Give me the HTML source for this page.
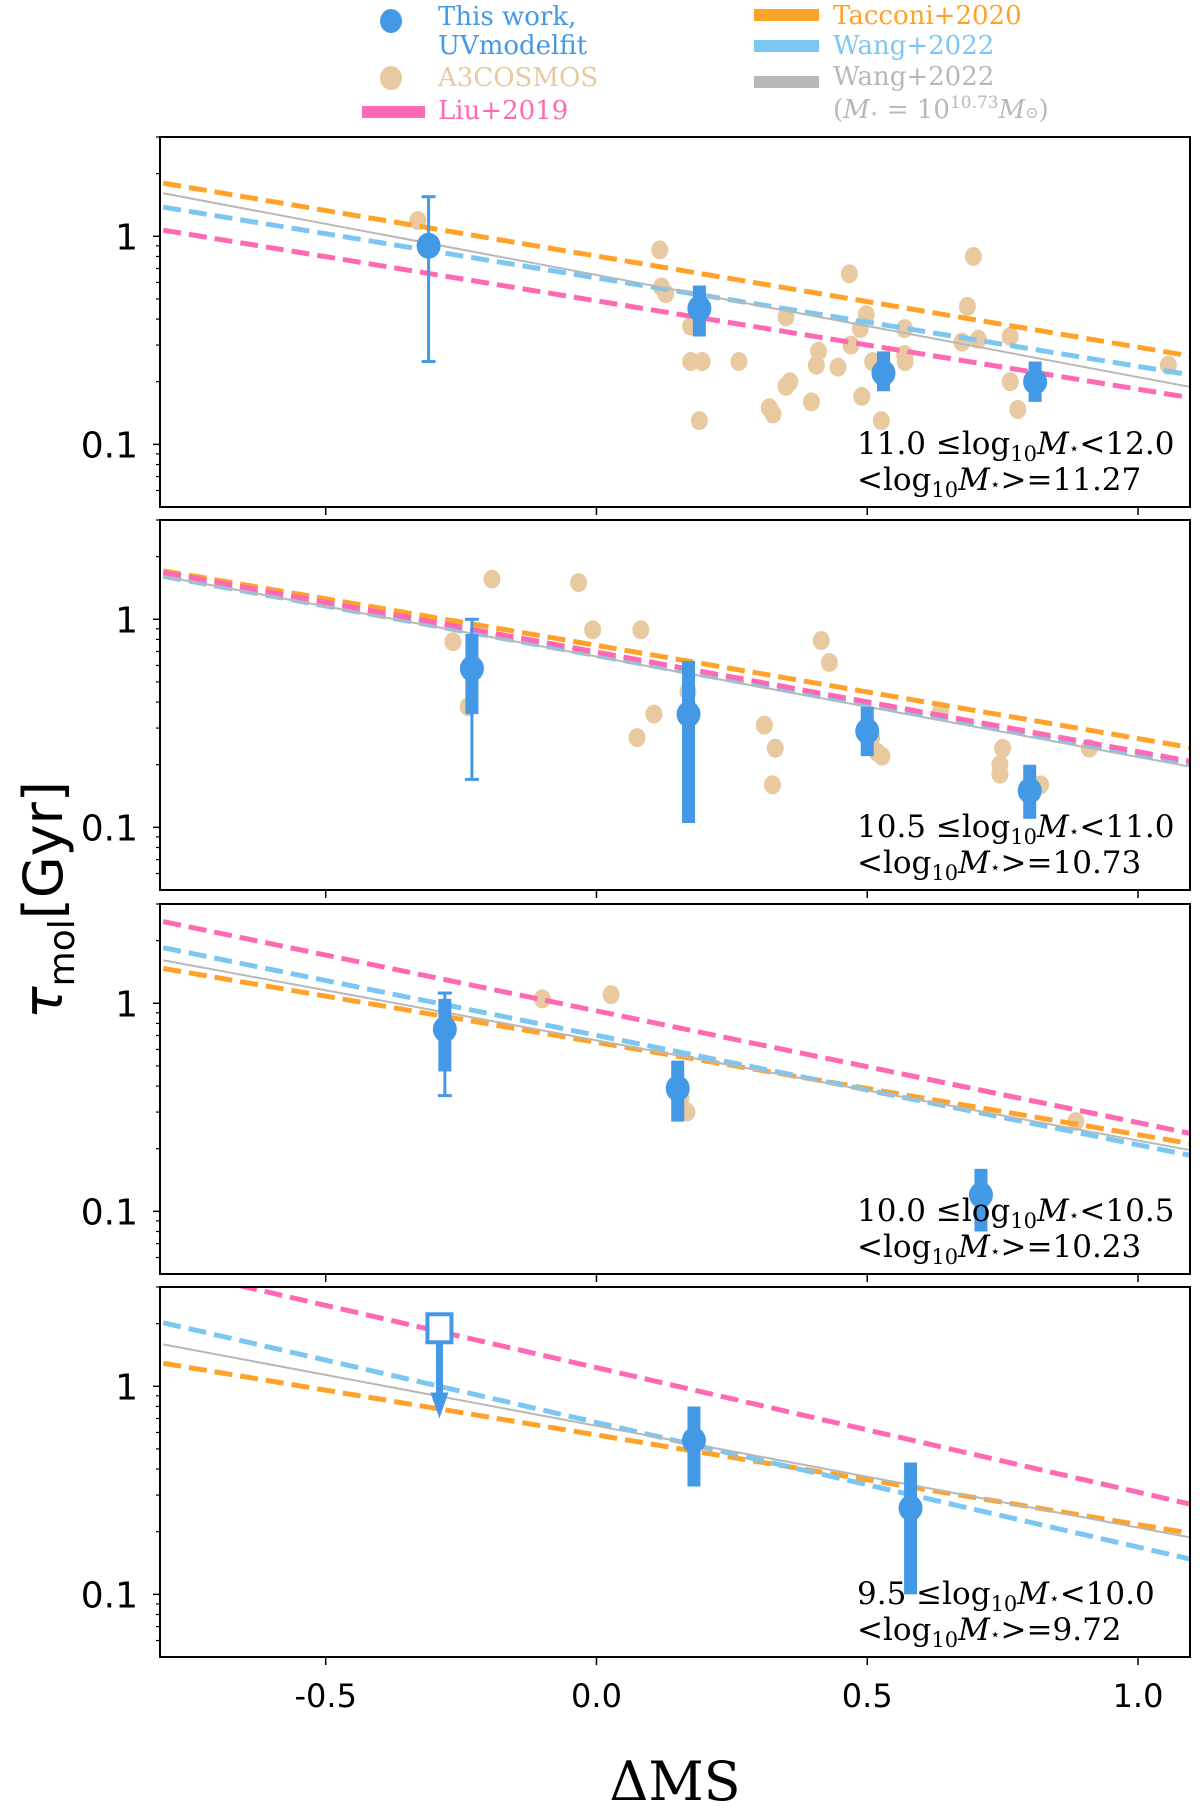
<!DOCTYPE html>
<html><head><meta charset="utf-8"><style>
body{margin:0;background:#fff;}
svg{display:block;}
</style></head><body>
<svg id="fig" width="1200" height="1815" xmlns="http://www.w3.org/2000/svg">
<g font-family="DejaVu Serif, Liberation Serif, serif" font-size="26">
  <ellipse cx="391" cy="21" rx="11" ry="12" fill="#4499e6"/>
  <text x="438" y="25" fill="#4499e6">This work,</text>
  <text x="438" y="54" fill="#4499e6">UVmodelfit</text>
  <ellipse cx="391" cy="78" rx="11" ry="12" fill="#e8c9a0"/>
  <text x="438" y="86" fill="#e8c9a0">A3COSMOS</text>
  <rect x="362" y="106" width="63" height="12" fill="#ff69b4"/>
  <text x="438" y="119" fill="#ff69b4">Liu+2019</text>
  <rect x="754" y="9" width="65" height="12" fill="#ffa22a"/>
  <text x="833" y="24" fill="#ffa22a">Tacconi+2020</text>
  <rect x="754" y="40" width="65" height="12" fill="#7cc6f2"/>
  <text x="833" y="54" fill="#7cc6f2">Wang+2022</text>
  <rect x="754" y="76" width="65" height="12" fill="#b8b8b8"/>
  <text x="833" y="85" fill="#b8b8b8">Wang+2022</text>
  <text x="833" y="118" fill="#b8b8b8">(<tspan font-style="italic">M</tspan><tspan font-size="14">⋆</tspan> = 10<tspan font-size="17" dy="-10">10.73</tspan><tspan dy="10" font-style="italic">M</tspan><tspan font-size="16">⊙</tspan>)</text>
</g>
<g id="panels"></g>
<text transform="translate(62,900) rotate(-90)" text-anchor="middle" font-family="DejaVu Sans, Liberation Sans, sans-serif" font-size="54" fill="#000"><tspan font-style="italic">τ</tspan><tspan font-size="36" dy="12">mol</tspan><tspan dy="-12">[Gyr]</tspan></text>
<text x="675" y="1800" text-anchor="middle" font-family="DejaVu Serif, Liberation Serif, serif" font-size="54" fill="#000">ΔMS</text>
</svg>
<script>
// ---- data ----
const lineX = [-0.8, 1.1];
const tacconiVals = [[1.80,0.265],[1.71,0.241],[1.47,0.211],[1.29,0.196]];
const wangVals = [[1.38,0.215],[1.61,0.200],[1.85,0.185],[2.02,0.147]];
const wangFixedVals = [[1.61,0.188],[1.61,0.195],[1.61,0.196],[1.59,0.187]];
const liuVals = [[1.07,0.167],[1.68,0.207],[2.47,0.236],[3.70,0.270]];
const binLabels = ["11.0","10.5","10.0","9.5"];
const binHighs = ["12.0","11.0","10.5","10.0"];
const meanMass = ["11.27","10.73","10.23","9.72"];
const workDms = [[-0.31,0.19,0.53,0.81],[-0.23,0.17,0.50,0.80],[-0.28,0.15,0.71],[0.18,0.58]];
const workTau = [[0.90,0.45,0.22,0.20],[0.58,0.35,0.29,0.15],[0.75,0.39,0.12],[0.55,0.26]];
const workThinLo = [[0.25,null,null,null],[0.17,null,null,null],[0.36,null,null],[null,null]];
const workThinHi = [[1.55,null,null,null],[1.00,null,null,null],[1.12,null,null],[null,null]];
const workThickLo = [[null,0.33,0.18,0.16],[0.35,0.105,0.22,0.11],[0.47,0.27,0.08],[0.33,0.10]];
const workThickHi = [[null,0.58,0.28,0.25],[0.85,0.63,0.38,0.20],[1.05,0.53,0.16],[0.80,0.43]];
const limitDms = [-0.29];
const limitTau = [1.9];
const limitArrowTo = [0.70];
const a3Dms = [
 [-0.33,0.117,0.12,0.128,0.467,0.696,0.35,0.498,0.685,0.174,0.569,0.487,0.705,0.764,0.675,0.41,0.47,0.569,0.57,0.51,0.174,0.195,0.263,0.406,0.446,0.764,0.357,0.35,0.49,0.397,0.319,0.326,0.19,0.526,0.778,1.056],
 [-0.265,-0.193,-0.033,-0.007,0.082,-0.237,0.169,0.106,0.075,0.31,0.33,0.325,0.415,0.43,0.508,0.518,0.527,0.635,0.75,0.745,0.745,0.82,0.91],
 [-0.10,0.027,0.167,0.156,0.885],
 []];
const a3Tau = [
 [1.19,0.86,0.57,0.53,0.66,0.80,0.41,0.42,0.46,0.37,0.36,0.36,0.32,0.33,0.31,0.28,0.30,0.27,0.25,0.25,0.25,0.25,0.25,0.24,0.235,0.20,0.20,0.19,0.17,0.16,0.15,0.14,0.13,0.13,0.147,0.24],
 [0.78,1.56,1.5,0.89,0.89,0.38,0.45,0.35,0.27,0.31,0.24,0.16,0.79,0.62,0.27,0.23,0.22,0.36,0.24,0.20,0.18,0.16,0.24],
 [1.05,1.10,0.30,0.35,0.27],
 []];
const yMajor = [0.1, 1];
const yMinor = [0.06,0.07,0.08,0.09,0.2,0.3,0.4,0.5,0.6,0.7,0.8,0.9,2,3];
const xTicks = [-0.5, 0.0, 0.5, 1.0];
const xTickLabels = ["-0.5","0.0","0.5","1.0"];

// ---- layout ----
const NS="http://www.w3.org/2000/svg";
const L=160,R=1190,X0=-0.806,X1=1.096;
const panelTops=[137,520,904,1287], PH=370;
const YMIN=0.05,YMAX=3.0;
const xs=v=>L+(v-X0)/(X1-X0)*(R-L);
function mk(tag,attrs,parent){const e=document.createElementNS(NS,tag);for(const k in attrs)e.setAttribute(k,attrs[k]);parent.appendChild(e);return e;}
const root=document.getElementById('panels');
const blue="#4499e6";
for(let p=0;p<4;p++){
  const T=panelTops[p],B=T+PH;
  const ys=v=>B-(Math.log10(v)-Math.log10(YMIN))/(Math.log10(YMAX)-Math.log10(YMIN))*PH;
  const g=mk('g',{},root);
  
  
  const cid='clip'+p;
  const cp=mk('clipPath',{id:cid},g);mk('rect',{x:L,y:T,width:R-L,height:PH},cp);
  const plot=mk('g',{'clip-path':'url(#'+cid+')'},g);
  a3Dms[p].forEach((d,i)=>{const c=mk('ellipse',{cx:xs(d),cy:ys(a3Tau[p][i]),rx:8.5,ry:9.5,fill:'#e8c9a0'},plot);
    
    });
  const lines=[[tacconiVals,'#ffa22a',true,'tacconi-line'],[wangVals,'#7cc6f2',true,'wang-line'],[wangFixedVals,'#b8b8b8',false,'wang-fixed-line'],[liuVals,'#ff69b4',true,'liu-line']];
  lines.forEach(([vals,col,dash,name])=>{
    const a={x1:xs(lineX[0]),y1:ys(vals[p][0]),x2:xs(lineX[1]),y2:ys(vals[p][1]),stroke:col,'stroke-width':dash?5:2};
    if(dash)a['stroke-dasharray']='18,8';
    const ln=mk('line',a,plot);
    
    
  });
  workDms[p].forEach((d,i)=>{
    const x=xs(d);
    if(workThinLo[p][i]!==null){
      const y1=ys(workThinLo[p][i]),y2=ys(workThinHi[p][i]);
      mk('line',{x1:x,x2:x,y1:y1,y2:y2,stroke:blue,'stroke-width':3},plot);
      mk('line',{x1:x-7,x2:x+7,y1:y1,y2:y1,stroke:blue,'stroke-width':3},plot);
      mk('line',{x1:x-7,x2:x+7,y1:y2,y2:y2,stroke:blue,'stroke-width':3},plot);
    }
    if(workThickLo[p][i]!==null){
      mk('line',{x1:x,x2:x,y1:ys(workThickLo[p][i]),y2:ys(workThickHi[p][i]),stroke:blue,'stroke-width':13},plot);
    }
    const c=mk('ellipse',{cx:x,cy:ys(workTau[p][i]),rx:12,ry:13,fill:blue},plot);
    
    
  });
  if(p===3){
    limitDms.forEach((d,i)=>{
      const x=xs(d),y=ys(limitTau[i]),ya=ys(limitArrowTo[i]);
      mk('line',{x1:x,x2:x,y1:y+12,y2:ya-20,stroke:blue,'stroke-width':7},plot);
      mk('polygon',{points:`${x-9},${ya-26} ${x+9},${ya-26} ${x},${ya}`,fill:blue},plot);
      const s=mk('rect',{x:x-12,y:y-14,width:24,height:28,fill:'#fff',stroke:blue,'stroke-width':4},plot);
      
      
    });
  }
  mk('rect',{x:L,y:T,width:R-L,height:PH,fill:'none',stroke:'#000','stroke-width':2},g);
  yMajor.forEach(v=>{const y=ys(v);mk('line',{x1:L-7,x2:L,y1:y,y2:y,stroke:'#000','stroke-width':1.5},g);
    const t=mk('text',{x:138,y:y+13,'text-anchor':'end','font-family':'DejaVu Sans, Liberation Sans, sans-serif','font-size':36,fill:'#000'},g);t.textContent=v===1?'1':'0.1';
    
    });
  yMinor.forEach(v=>{if(v<YMIN||v>YMAX)return;const y=ys(v);mk('line',{x1:L-4,x2:L,y1:y,y2:y,stroke:'#000','stroke-width':1.2},g);});
  xTicks.forEach((v,i)=>{const x=xs(v);mk('line',{x1:x,x2:x,y1:B,y2:B+8,stroke:'#000','stroke-width':1.5},g);
    if(p===3){const t=mk('text',{x:x,y:B+50,'text-anchor':'middle','font-family':'DejaVu Sans, Liberation Sans, sans-serif','font-size':32,fill:'#000'},g);t.textContent=xTickLabels[i];
      
      }});
  const an=mk('text',{x:857,y:T+317,'font-family':'DejaVu Serif, Liberation Serif, serif','font-size':31,fill:'#000'},g);
  
  
  an.innerHTML=`${binLabels[p]} ≤log<tspan font-size="21" dy="7">10</tspan><tspan dy="-7" font-style="italic">M</tspan><tspan font-size="17">⋆</tspan>&lt;${binHighs[p]}`;
  const an2=mk('text',{x:857,y:T+353,'font-family':'DejaVu Serif, Liberation Serif, serif','font-size':31,fill:'#000'},g);
  
  
  an2.innerHTML=`&lt;log<tspan font-size="21" dy="7">10</tspan><tspan dy="-7" font-style="italic">M</tspan><tspan font-size="17">⋆</tspan>&gt;=${meanMass[p]}`;
}
</script>
</body></html>
